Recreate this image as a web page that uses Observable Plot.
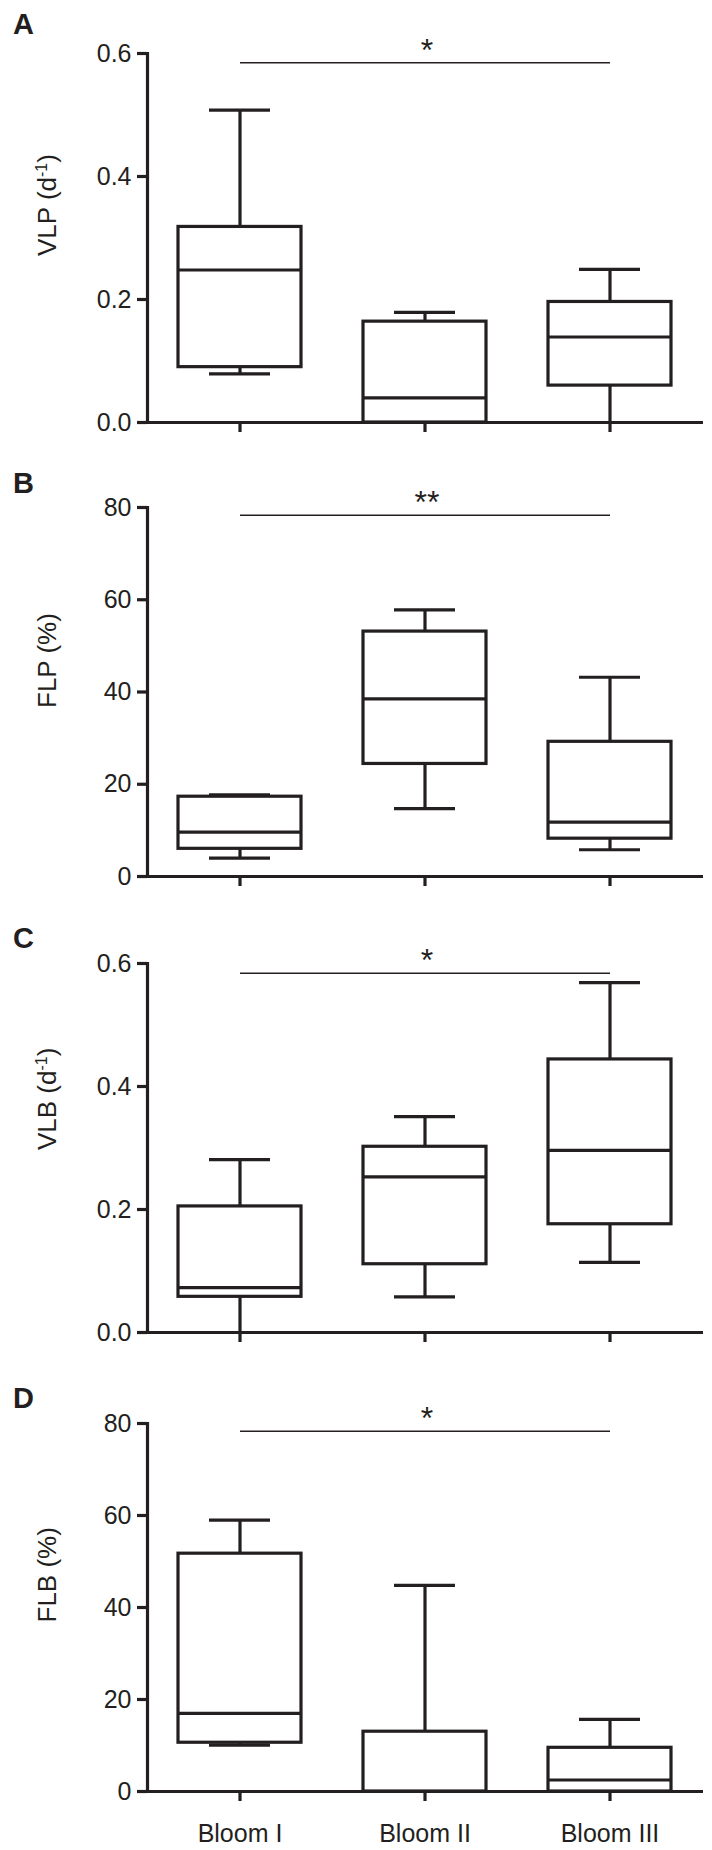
<!DOCTYPE html>
<html>
<head>
<meta charset="utf-8">
<script src="https://cdn.jsdelivr.net/npm/d3@7"></script>
<script src="https://cdn.jsdelivr.net/npm/@observablehq/plot@0.6"></script>
<style>
  html, body { margin: 0; padding: 0; background: #fff; }
  #root { position: relative; width: 712px; }
  #root svg { display: block; }
  .letter { position: absolute; left: 13px; font: bold 29px "Liberation Sans", Arial, sans-serif; line-height: 29px; color: #231f20; }
</style>
</head>
<body>
<div id="root"></div>
<script>
// ---- data ----
const groups = ["Bloom I", "Bloom II", "Bloom III"];

const vlpMin = [0.079, 0, 0];
const vlpQ1  = [0.090, 0, 0.060];
const vlpMed = [0.248, 0.040, 0.139];
const vlpQ3  = [0.318, 0.164, 0.196];
const vlpMax = [0.508, 0.179, 0.249];

const flpMin = [4.0, 14.7, 5.8];
const flpQ1  = [6.0, 24.4, 8.2];
const flpMed = [9.6, 38.5, 11.8];
const flpQ3  = [17.3, 53.1, 29.2];
const flpMax = [17.7, 57.8, 43.2];

const vlbMin = [0, 0.058, 0.114];
const vlbQ1  = [0.058, 0.111, 0.176];
const vlbMed = [0.073, 0.253, 0.296];
const vlbQ3  = [0.205, 0.302, 0.444];
const vlbMax = [0.281, 0.351, 0.569];

const flbMin = [10.1, 0, 0];
const flbQ1  = [10.6, 0, 0];
const flbMed = [17.0, 0, 2.5];
const flbQ3  = [51.7, 13.0, 9.5];
const flbMax = [59.0, 44.8, 15.7];

const panelLetters = ["A", "B", "C", "D"];
const yLabels = ["VLP (d-1)", "FLP (%)", "VLB (d-1)", "FLB (%)"];
const sigStars = ["*", "**", "*", "*"];
const sigLevels = [0.585, 78.3, 0.584, 78.3];
const rateTicks = [0, 0.2, 0.4, 0.6];
const pctTicks = [0, 20, 40, 60, 80];

// ---- drawing ----
const INK = "#231f20";
const root = document.getElementById("root");

function panel(k, series, domain, ticks, fmt, layout) {
  const [mn, q1, md, q3, mx] = series;
  const rows = groups.map((g, i) => ({g, min: mn[i], q1: q1[i], med: md[i], q3: q3[i], max: mx[i]}));
  const sig = [{a: groups[0], b: groups[2], mid: groups[1], v: sigLevels[k], t: sigStars[k]}];
  const chart = Plot.plot({
    width: 712,
    height: layout.height,
    marginTop: layout.top,
    marginBottom: layout.bottom,
    marginLeft: 147,
    marginRight: 9,
    style: {fontFamily: "'Liberation Sans', Arial, sans-serif", fontSize: "25px", color: INK, background: "#fff", overflow: "visible"},
    x: {type: "band", domain: groups, paddingInner: 0.335, paddingOuter: 0.17, axis: null},
    y: {domain, axis: null},
    marks: [
      Plot.ruleX(rows, {x: "g", y1: "q3", y2: "max", stroke: INK, strokeWidth: 3.2}),
      Plot.ruleX(rows, {x: "g", y1: "min", y2: "q1", stroke: INK, strokeWidth: 3.2}),
      Plot.tickY(rows, {x: "g", y: "max", insetLeft: 31, insetRight: 31, stroke: INK, strokeWidth: 3.2}),
      Plot.tickY(rows, {x: "g", y: "min", insetLeft: 31, insetRight: 31, stroke: INK, strokeWidth: 3.2}),
      Plot.barY(rows, {x: "g", y1: "q1", y2: "q3", fill: "#fff", stroke: INK, strokeWidth: 3.2}),
      Plot.tickY(rows, {x: "g", y: "med", stroke: INK, strokeWidth: 3.2}),
      Plot.axisY({ticks, tickSize: 10, tickPadding: 6, strokeWidth: 3.2, stroke: INK, tickFormat: fmt, label: null, fontSize: 25}),
      Plot.axisX({tickSize: 10, tickPadding: 23, strokeWidth: 3.2, stroke: INK, label: null, fontSize: 25,
                  tickFormat: layout.showX ? (d => d) : (() => "")}),
      Plot.frame({anchor: "left", stroke: INK, strokeWidth: 3.2}),
      Plot.ruleY([0], {insetLeft: -10, stroke: INK, strokeWidth: 3.2}),
      Plot.link(sig, {x1: "a", x2: "b", y1: "v", y2: "v", stroke: INK, strokeWidth: 1.5}),
      Plot.text(sig, {x: "mid", y: "v", text: "t", lineAnchor: "bottom", dx: 2, dy: -2, fontSize: 32, fill: INK}),
      Plot.text([yLabels[k]], {frameAnchor: "left", rotate: -90, dx: -100, dy: layout.labelDy, text: d => d, fontSize: 26, fill: INK})
    ]
  });
  // superscript in unit labels
  chart.querySelectorAll("text").forEach(t => {
    if (t.textContent === "VLP (d-1)" || t.textContent === "VLB (d-1)") {
      const base = t.textContent.slice(0, 6);
      t.textContent = "";
      const ns = "http://www.w3.org/2000/svg";
      const a = document.createElementNS(ns, "tspan"); a.textContent = base;
      const b = document.createElementNS(ns, "tspan"); b.textContent = "-1";
      b.setAttribute("font-size", "16"); b.setAttribute("dy", "-9");
      const c = document.createElementNS(ns, "tspan"); c.textContent = ")";
      c.setAttribute("dy", "9");
      t.append(a, b, c);
    }
  });
  root.appendChild(chart);
  const L = document.createElement("div");
  L.className = "letter";
  L.textContent = panelLetters[k];
  L.style.top = layout.letterTop + "px";
  root.appendChild(L);
}

const fmt1 = d3.format(".1f");
const fmt0 = d3.format("d");
panel(0, [vlpMin, vlpQ1, vlpMed, vlpQ3, vlpMax], [0, 0.6], rateTicks, fmt1,
  {height: 460, top: 53, bottom: 38, labelDy: 18, letterTop: 10, showX: false});
panel(1, [flpMin, flpQ1, flpMed, flpQ3, flpMax], [0, 80], pctTicks, fmt0,
  {height: 460, top: 47, bottom: 44, labelDy: 16, letterTop: 469, showX: false});
panel(2, [vlbMin, vlbQ1, vlbMed, vlbQ3, vlbMax], [0, 0.6], rateTicks, fmt1,
  {height: 460, top: 43, bottom: 48, labelDy: 2, letterTop: 924, showX: false});
panel(3, [flbMin, flbQ1, flbMed, flbQ3, flbMax], [0, 80], pctTicks, fmt0,
  {height: 470, top: 43, bottom: 59, labelDy: 15, letterTop: 1384, showX: true});
</script>
</body>
</html>
